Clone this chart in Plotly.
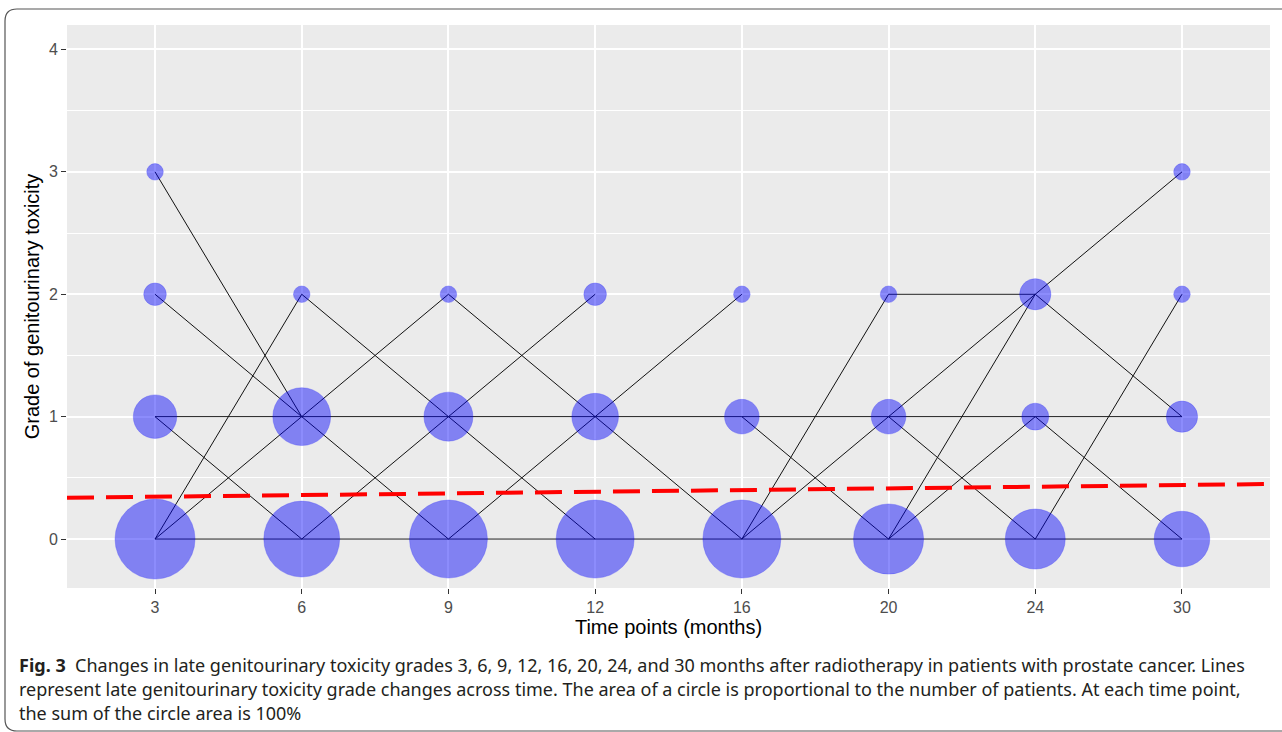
import numpy as np
import plotly.graph_objects as go

# ---------------- data ----------------
time_labels = ["3", "6", "9", "12", "16", "20", "24", "30"]
grades = [0, 1, 2, 3]
# estimated number of patients at each time point for each grade
n_grade0 = [112, 98, 105, 105, 105, 80, 53, 43]
n_grade1 = [21, 48, 30, 26, 10, 10, 4, 7]
n_grade2 = [2, 1, 1, 2, 1, 1, 7, 1]
n_grade3 = [1, 0, 0, 0, 0, 0, 0, 1]

# grade transitions between consecutive time points (index of start time point)
seg_start = [0, 0, 0, 0, 0, 0, 0,
             1, 1, 1, 1, 1, 1,
             2, 2, 2, 2, 2, 2,
             3, 3, 3, 3,
             4, 4, 4, 4, 4,
             5, 5, 5, 5, 5, 5, 5,
             6, 6, 6, 6, 6, 6]
seg_from = [3, 2, 1, 1, 0, 0, 0,
            2, 1, 1, 1, 0, 0,
            2, 1, 1, 1, 0, 0,
            1, 1, 1, 0,
            1, 1, 0, 0, 0,
            2, 1, 1, 1, 0, 0, 0,
            2, 2, 1, 1, 0, 0]
seg_to = [1, 1, 1, 0, 2, 1, 0,
          1, 2, 1, 0, 1, 0,
          1, 2, 1, 0, 1, 0,
          2, 1, 0, 0,
          1, 0, 2, 1, 0,
          2, 2, 1, 0, 2, 1, 0,
          3, 1, 1, 0, 2, 0]

# linear trend (red dashed line), in category-position units
trend_intercept = 0.332
trend_slope = 0.01365

# ---------------- figure ----------------
positions = np.arange(1, len(time_labels) + 1)
x_range = [0.4, 8.6]
y_range = [-0.4, 4.2]

fig = go.Figure()

# transition lines
lx, ly = [], []
for s, g0, g1 in zip(seg_start, seg_from, seg_to):
    lx += [positions[s], positions[s + 1], None]
    ly += [g0, g1, None]
fig.add_trace(go.Scatter(x=lx, y=ly, mode="lines",
                         line=dict(color="#111111", width=1),
                         hoverinfo="skip", showlegend=False))

# circles
counts = {0: n_grade0, 1: n_grade1, 2: n_grade2, 3: n_grade3}
px, py, pn = [], [], []
for g in grades:
    for i, n in enumerate(counts[g]):
        if n > 0:
            px.append(positions[i]); py.append(g); pn.append(n)
pn = np.array(pn, dtype=float)
d_min, d_max = 16.5, 80
sizes = d_min + (d_max - d_min) * np.sqrt((pn - pn.min()) / (pn.max() - pn.min()))
fig.add_trace(go.Scatter(x=px, y=py, mode="markers",
                         marker=dict(size=sizes, color="rgba(0,0,250,0.64)",
                                     line=dict(color="rgba(0,0,255,0.35)", width=1)),
                         customdata=pn, hovertemplate="n=%{customdata}<extra></extra>",
                         showlegend=False))

# trend line across the panel
tx = np.array(x_range)
fig.add_trace(go.Scatter(x=tx, y=trend_intercept + trend_slope * tx, mode="lines",
                         line=dict(color="#FF0000", width=4, dash="27px,12px"),
                         hoverinfo="skip", showlegend=False))

W, H = 1282, 732
ml, mr, mt, mb = 67, 12, 25, 144
pw, ph = W - ml - mr, H - mt - mb

def pxx(p):
    return (p - ml) / pw

def pxy(p):
    return (H - mb - p) / ph

fig.update_layout(
    width=W, height=H,
    margin=dict(l=ml, r=mr, t=mt, b=mb),
    paper_bgcolor="white",
    plot_bgcolor="#EBEBEB",
    font=dict(family="Liberation Sans, Arial, sans-serif"),
    xaxis=dict(range=x_range, tickmode="array", tickvals=positions, ticktext=time_labels,
               showgrid=True, gridcolor="white", gridwidth=1.6, zeroline=False,
               ticks="outside", ticklen=5, tickwidth=1.2, tickcolor="#333333",
               tickfont=dict(size=16, color="#4D4D4D"),
               title=dict(text="Time points (months)", font=dict(size=20, color="black"),
                          standoff=2)),
    yaxis=dict(range=y_range, tickmode="array", tickvals=[0, 1, 2, 3, 4],
               showgrid=True, gridcolor="white", gridwidth=1.6, zeroline=False,
               ticks="outside", ticklen=5, tickwidth=1.2, tickcolor="#333333",
               tickfont=dict(size=16, color="#4D4D4D"),
               minor=dict(tickvals=[-0.5, 0.5, 1.5, 2.5, 3.5], showgrid=True,
                          gridcolor="white", gridwidth=0.8, ticks=""),
               title=dict(text="Grade of genitourinary toxicity",
                          font=dict(size=20, color="black"), standoff=3)),
)

# caption
cap_font = dict(family="Noto Sans, sans-serif", size=18, color="#231F20")
cap_lines = [
    "<b>Fig. 3</b>  Changes in late genitourinary toxicity grades 3, 6, 9, 12, 16, 20, 24, and 30 months after radiotherapy in patients with prostate cancer. Lines",
    "represent late genitourinary toxicity grade changes across time. The area of a circle is proportional to the number of patients. At each time point,",
    "the sum of the circle area is 100%",
]
for k, txt in enumerate(cap_lines):
    fig.add_annotation(text=txt, xref="paper", yref="paper",
                       x=pxx(17), y=pxy(665 + 24 * k), xanchor="left", yanchor="middle",
                       showarrow=False, font=cap_font)

# rounded frame (open on the right, as it runs off the picture)
x0, x1, y0, y1, r = pxx(5), pxx(1300), pxy(9), pxy(731), 12
rx, ry = r / pw, r / ph
path = (f"M {x1},{y0} L {x0+rx},{y0} Q {x0},{y0} {x0},{y0-ry} "
        f"L {x0},{y1+ry} Q {x0},{y1} {x0+rx},{y1} L {x1},{y1}")
fig.add_shape(type="path", path=path, xref="paper", yref="paper",
              line=dict(color="#555555", width=1.2), fillcolor="rgba(0,0,0,0)", layer="above")

fig.write_html("out.html", config={"displayModeBar": False},
               post_script="document.body.style.margin='0';")
